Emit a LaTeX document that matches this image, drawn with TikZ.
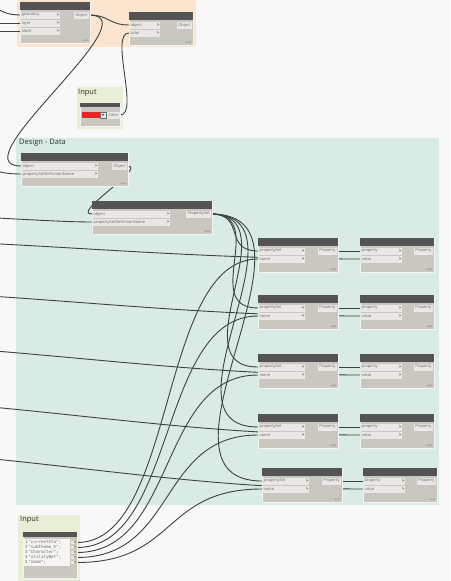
\documentclass[tikz,border=0pt]{standalone}
\usepackage{fontspec}
\setmainfont{Open Sans}
\setmonofont{DejaVu Sans Mono}

\definecolor{canvasbg}{RGB}{248,248,248}
\definecolor{grporange}{RGB}{251,229,207}
\definecolor{grpinput}{RGB}{233,239,215}
\definecolor{grpdesign}{RGB}{216,236,229}
\definecolor{nodebodyc}{RGB}{202,199,192}
\definecolor{nodeheadc}{RGB}{84,84,84}
\definecolor{portfillc}{RGB}{234,232,228}
\definecolor{wirec}{RGB}{58,66,66}
\definecolor{lblc}{RGB}{105,105,105}
\definecolor{titlec}{RGB}{45,45,45}
\definecolor{swatchc}{RGB}{228,38,38}

\pgfdeclarelayer{grp}
\pgfdeclarelayer{wires}
\pgfsetlayers{grp,wires,main}

\tikzset{
  nodebody/.style={fill=nodebodyc, draw=white!80!nodebodyc, line width=0.4pt},
  nodehead/.style={fill=nodeheadc},
  portlbl/.style={inner xsep=1.5pt, inner ysep=0pt, outer sep=0pt, font=\fontsize{4}{4}\selectfont, text=lblc},
  portmark/.style={inner sep=0.6pt, outer sep=0pt, font=\fontsize{4.5}{4.5}\selectfont\bfseries, text=nodeheadc},
  outport/.style={fill=portfillc, inner xsep=1.5pt, inner ysep=0pt, outer sep=0pt, minimum height=7pt, font=\fontsize{4}{4}\selectfont, text=lblc},
  lacing/.style={inner sep=0.5pt, font=\fontsize{2.5}{2.5}\selectfont, text=lblc},
  grouptitle/.style={anchor=north west, inner sep=0pt, font=\fontsize{7.5}{7.5}\selectfont, text=titlec},
  codetxt/.style={inner sep=0pt, font=\fontsize{4.2}{4.2}\selectfont\ttfamily, text=lblc},
  wire/.style={draw=wirec, line width=0.9pt}
}

% node frame: x, top, width, height
\newcommand{\dynnode}[4]{%
  \path[nodebody] (#1,#2) rectangle (#1+#3,#2+#4);
  \path[nodehead] (#1,#2) rectangle (#1+#3,#2+8);
  \node[lacing, anchor=south east] at (#1+#3-1,#2+#4-1) {auto};
}
% input port: name, x, y, width, label
\newcommand{\inport}[5]{%
  \path[fill=portfillc] (#2,#3-3.5) rectangle (#2+#4,#3+3.5);
  \node[portlbl, anchor=west] (#1) at (#2,#3) {#5};
  \node[portmark, anchor=east] (#1m) at (#2+#4,#3) {>};
}
% output port: name, right x, y, label
\newcommand{\outport}[4]{%
  \node[outport, anchor=east] (#1) at (#2,#3) {#4};
}

\begin{document}
\begin{tikzpicture}[x=1pt, y=-1pt, line join=round, line cap=round]
\useasboundingbox (0,0) rectangle (450,581);

% groups
\begin{pgfonlayer}{grp}
\fill[canvasbg] (0,0) rectangle (450,581);
\fill[grporange] (17,-20) rectangle (196,47);
\fill[grpinput] (77,87) rectangle (123,129);
\node[grouptitle] (t-in1) at (78,88.5) {Input};
\fill[grpdesign] (16,138) rectangle (439,505);
\node[grouptitle] (t-dd) at (19,139) {Design - Data};
\fill[grpinput] (18,515) rectangle (80,590);
\node[grouptitle] (t-in2) at (20,516) {Input};
\end{pgfonlayer}

% selection
\dynnode{20}{2}{70}{41}
\inport{sel-geo}{20}{15}{40}{geometry}
\inport{sel-lay}{20}{23}{40}{layer}
\inport{sel-blk}{20}{31}{40}{block}
\outport{sel-out}{89}{15}{Object}

\dynnode{129}{12}{64}{33}
\inport{col-obj}{129}{25}{31}{object}
\inport{col-col}{129}{33}{31}{color}
\outport{col-out}{192}{25}{Object}

% colour picker
\path[nodebody] (80,103) rectangle (120,126);
\path[nodehead] (80,103) rectangle (120,107);
\fill[swatchc] (82,112) rectangle (100,118);
\path[fill=portfillc, draw=lblc, line width=0.2pt] (100,112) rectangle (106,118);
\fill[nodeheadc] (101.8,114) -- (104.2,114) -- (103,116.2) -- cycle;
\outport{pick-out}{120}{115}{Color}

% property set definitions
\dynnode{21}{153}{107}{33}
\inport{psdA-obj}{21}{166}{77}{object}
\inport{psdA-name}{21}{174}{77}{propertySetDefinitionName}
\outport{psdA-out}{127}{166}{Object}

\dynnode{92}{201}{120}{33}
\inport{psdB-obj}{92}{214}{78}{object}
\inport{psdB-name}{92}{222}{78}{propertySetDefinitionName}
\outport{psdB-out}{211}{214}{PropertySet}

% property rows
\foreach \i/\t/\gx/\rx in {1/238/258/360,2/295/258/360,3/354/258/360,4/414/258/360,5/468/262/363}{
  \dynnode{\gx}{\t}{80}{34}
  \inport{get\i-ps}{\gx}{\t+13}{47}{propertySet}
  \inport{get\i-nm}{\gx}{\t+21}{47}{name}
  \outport{get\i-out}{\gx+79}{\t+13}{Property}
  \dynnode{\rx}{\t}{74}{34}
  \inport{set\i-pr}{\rx}{\t+13}{42}{property}
  \inport{set\i-val}{\rx}{\t+21}{42}{value}
  \outport{set\i-out}{\rx+73}{\t+13}{Property}
}

% code block
\path[nodebody] (23,532) rectangle (77,578);
\path[nodehead] (23,532) rectangle (77,537);
\fill[white!55!portfillc] (24,539) rectangle (70,566);
\foreach \i/\s in {1/currentSta,2/subTheme\_h,3/Character,4/utilityNet,5/name}{
  \node[codetxt, anchor=west] (cbl\i) at (25,537.5+5*\i) {\i\,"\s";};
  \fill[portfillc] (70.5,535.6+5*\i) rectangle (73.5,539.4+5*\i);
  \node[portmark, anchor=east, font=\fontsize{3.5}{3.5}\selectfont\bfseries] (cb\i) at (77,537.5+5*\i) {>};
}

% wires
\begin{pgfonlayer}{wires}
\path (-30,0) coordinate (in-geo)
      (-30,23) coordinate (in-lay)
      (-30,31) coordinate (in-blk)
      (-30,168) coordinate (in-psdA)
      (-60,216) coordinate (in-psdB);
\draw[wire] (in-geo) .. controls +(25,0) and +(-25,0) .. (sel-geo.west);
\draw[wire] (in-lay) -- (sel-lay.west);
\draw[wire] (in-blk) -- (sel-blk.west);
\draw[wire] (sel-out.east) .. controls +(20,0) and +(-20,0) .. (col-obj.west);
\draw[wire] (sel-out.east) .. controls +(65,0) and +(-65,0) .. (psdA-obj.west);
\draw[wire] (pick-out.east) .. controls +(20,0) and +(-20,0) .. (col-col.west);
\draw[wire] (in-psdA) .. controls +(25,0) and +(-25,0) .. (psdA-name.west);
\draw[wire] (psdA-out.east) .. controls +(22,0) and +(-22,0) .. (psdB-obj.west);
\draw[wire] (in-psdB) .. controls +(40,0) and +(-40,0) .. (psdB-name.west);
\foreach \i/\dd/\yv in {1/35/238,2/58/289,3/81/342,4/105/397,5/127/448}{
  \path (-200,\yv) coordinate (in-val\i);
  \draw[wire] (psdB-out.east) .. controls +(\dd,0) and +(-\dd,0) .. (get\i-ps.west);
  \draw[wire] (cb\i.east) .. controls +(100,0) and +(-100,0) .. (get\i-nm.west);
  \draw[wire] (get\i-out.east) -- (set\i-pr.west);
  \draw[wire] (in-val\i) .. controls +(200,0) and +(-200,0) .. (set\i-val.west);
}
\end{pgfonlayer}
\end{tikzpicture}
\end{document}
